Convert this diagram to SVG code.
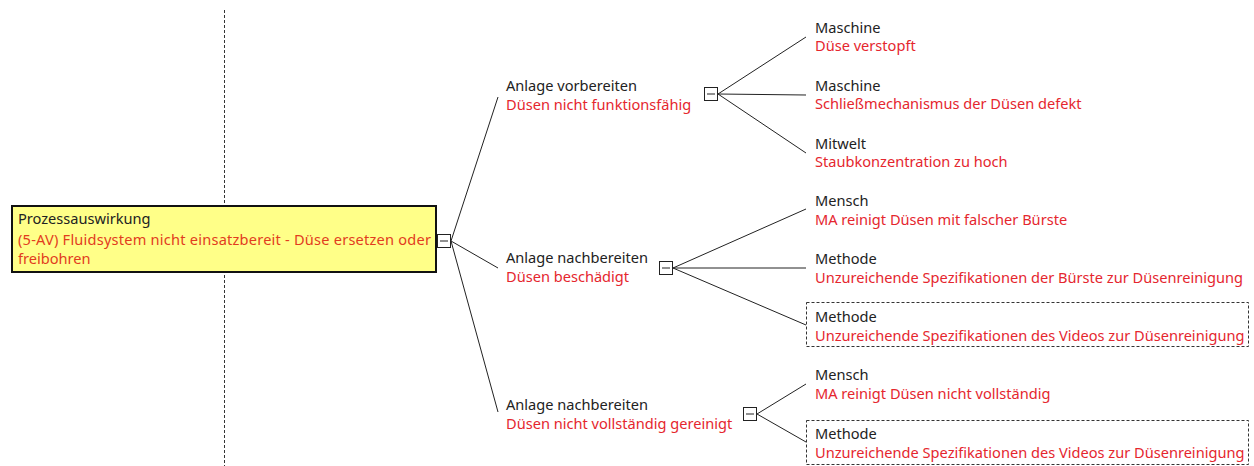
<svg xmlns="http://www.w3.org/2000/svg" width="1254" height="466" viewBox="0 0 1254 466">
<style>
text{font-family:"Noto Sans","Open Sans","Liberation Sans",sans-serif;font-size:14.6px}
.k{fill:#222}
.r{fill:#e5262e}
.ro{fill:#e23c1e}
.ln{stroke:#222;stroke-width:1;fill:none}
.tg{fill:#fff;stroke:#222;stroke-width:1}
.dash{fill:none;stroke:#333;stroke-width:1;stroke-dasharray:3,2}
</style>
<rect width="1254" height="466" fill="#fff"/>
<line x1="224.5" y1="10" x2="224.5" y2="466" class="dash" stroke-dasharray="2,2"/>
<g id="connectors">
<line class="ln" x1="451" y1="241" x2="498" y2="97"/>
<line class="ln" x1="451" y1="241" x2="498" y2="268"/>
<line class="ln" x1="451" y1="241" x2="498" y2="412"/>
<line class="ln" x1="718" y1="94" x2="806" y2="37"/>
<line class="ln" x1="718" y1="94" x2="806" y2="95"/>
<line class="ln" x1="718" y1="94" x2="806" y2="153"/>
<line class="ln" x1="673" y1="268" x2="806" y2="209"/>
<line class="ln" x1="673" y1="268" x2="806" y2="268"/>
<line class="ln" x1="673" y1="268" x2="806" y2="325"/>
<line class="ln" x1="757" y1="414" x2="806" y2="384"/>
<line class="ln" x1="757" y1="414" x2="806" y2="442"/>
</g>
<g id="root">
<rect x="12" y="206" width="424" height="66" fill="#ffff88" stroke="#111" stroke-width="2"/>
<text x="18" y="224" class="k">Prozessauswirkung</text>
<text x="18" y="245" class="ro" textLength="413" lengthAdjust="spacing">(5-AV) Fluidsystem nicht einsatzbereit - Düse ersetzen oder</text>
<text x="18" y="264" class="ro">freibohren</text>
<rect class="tg" x="437.5" y="234.5" width="13" height="13"/>
<line class="ln" x1="440" y1="241" x2="448" y2="241"/>
</g>
<g id="b1">
<text x="506" y="91" class="k">Anlage vorbereiten</text>
<text x="506" y="110" class="r">Düsen nicht funktionsfähig</text>
<rect class="tg" x="704.5" y="87.5" width="13" height="13"/>
<line class="ln" x1="707" y1="94" x2="715" y2="94"/>
</g>
<g id="b2">
<text x="506" y="263" class="k">Anlage nachbereiten</text>
<text x="506" y="282" class="r">Düsen beschädigt</text>
<rect class="tg" x="659.5" y="261.5" width="13" height="13"/>
<line class="ln" x1="662" y1="268" x2="670" y2="268"/>
</g>
<g id="b3">
<text x="506" y="410" class="k">Anlage nachbereiten</text>
<text x="506" y="429" class="r">Düsen nicht vollständig gereinigt</text>
<rect class="tg" x="743.5" y="407.5" width="13" height="13"/>
<line class="ln" x1="746" y1="414" x2="754" y2="414"/>
</g>
<g id="c1">
<text x="815" y="33" class="k">Maschine</text>
<text x="815" y="51" class="r">Düse verstopft</text>
</g>
<g id="c2">
<text x="815" y="91" class="k">Maschine</text>
<text x="815" y="109" class="r">Schließmechanismus der Düsen defekt</text>
</g>
<g id="c3">
<text x="815" y="149" class="k">Mitwelt</text>
<text x="815" y="167" class="r">Staubkonzentration zu hoch</text>
</g>
<g id="c4">
<text x="815" y="206" class="k">Mensch</text>
<text x="815" y="225" class="r">MA reinigt Düsen mit falscher Bürste</text>
</g>
<g id="c5">
<text x="815" y="264" class="k">Methode</text>
<text x="815" y="283" class="r">Unzureichende Spezifikationen der Bürste zur Düsenreinigung</text>
</g>
<g id="c6">
<rect x="806.5" y="302.5" width="442" height="44" class="dash"/>
<text x="815" y="322" class="k">Methode</text>
<text x="815" y="341" class="r">Unzureichende Spezifikationen des Videos zur Düsenreinigung</text>
</g>
<g id="c7">
<text x="815" y="380" class="k">Mensch</text>
<text x="815" y="399" class="r">MA reinigt Düsen nicht vollständig</text>
</g>
<g id="c8">
<rect x="806.5" y="420.5" width="442" height="44" class="dash"/>
<text x="815" y="439" class="k">Methode</text>
<text x="815" y="458" class="r">Unzureichende Spezifikationen des Videos zur Düsenreinigung</text>
</g>
</svg>
